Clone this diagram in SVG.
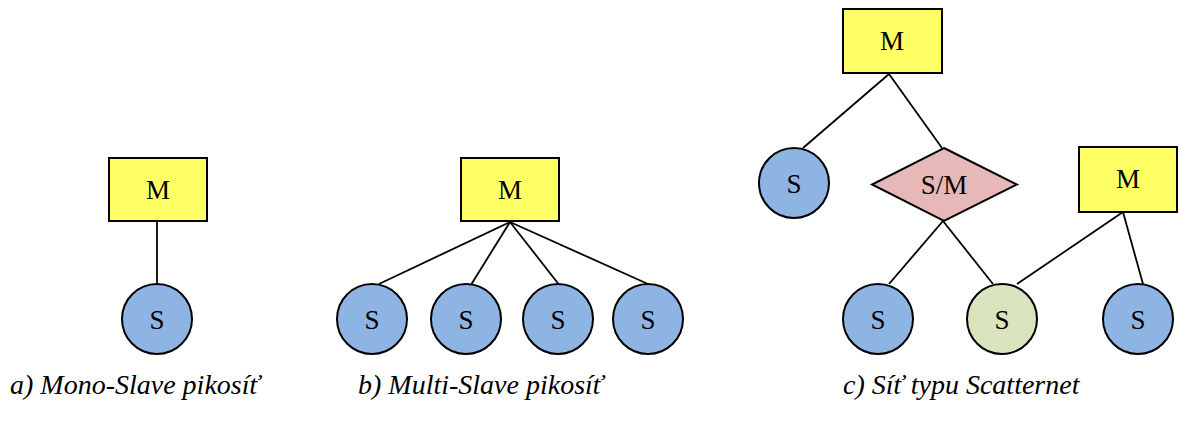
<svg xmlns="http://www.w3.org/2000/svg" width="1178" height="427" viewBox="0 0 1178 427">
<style>
.m{fill:#FFFF66;stroke:#000;stroke-width:2}
.s{fill:#8EB4E3;stroke:#000;stroke-width:2}
.g{fill:#D7E4BD;stroke:#000;stroke-width:2}
.d{fill:#E6B9B8;stroke:#000;stroke-width:2}
.c line{stroke:#000;stroke-width:1.8}
.t{font-size:27px;text-anchor:middle;fill:#000}
.cap{font-size:28px;font-style:italic;fill:#000}
</style>
<rect width="1178" height="427" fill="#fff"/>
<g class="c" id="connectors">
<line x1="157" y1="222" x2="157" y2="284"/>
<line x1="510" y1="222" x2="379" y2="284"/>
<line x1="510" y1="222" x2="471.5" y2="284"/>
<line x1="510" y1="222" x2="558.5" y2="284"/>
<line x1="510" y1="222" x2="648" y2="284"/>
<line x1="889" y1="74" x2="803" y2="148"/>
<line x1="889" y1="74" x2="942" y2="148"/>
<line x1="943" y1="221" x2="889" y2="284"/>
<line x1="943" y1="221" x2="993" y2="284"/>
<line x1="1123" y1="212" x2="1017" y2="284"/>
<line x1="1123" y1="212" x2="1143" y2="284"/>
</g>
<g font-family="Liberation Serif, DejaVu Serif, serif">
<g id="a_M"><rect class="m" x="109" y="158" width="98" height="63"/><text class="t" x="158" y="199">M</text></g>
<g id="a_S"><circle class="s" cx="157" cy="319" r="35"/><text class="t" x="157" y="329">S</text></g>
<g id="b_M"><rect class="m" x="461" y="158" width="98" height="63"/><text class="t" x="510" y="199">M</text></g>
<g id="b_S1"><circle class="s" cx="372" cy="319" r="35"/><text class="t" x="372" y="329">S</text></g>
<g id="b_S2"><circle class="s" cx="466" cy="319" r="35"/><text class="t" x="466" y="329">S</text></g>
<g id="b_S3"><circle class="s" cx="558" cy="319" r="35"/><text class="t" x="558" y="329">S</text></g>
<g id="b_S4"><circle class="s" cx="648" cy="319" r="35"/><text class="t" x="648" y="329">S</text></g>
<g id="c_M1"><rect class="m" x="843" y="9" width="99" height="64"/><text class="t" x="892" y="50">M</text></g>
<g id="c_S1"><circle class="s" cx="794" cy="183" r="35"/><text class="t" x="794" y="193">S</text></g>
<g id="c_SM"><polygon class="d" points="944,148 1017,184.5 944,221 872,184.5"/><text class="t" x="944" y="194">S/M</text></g>
<g id="c_M2"><rect class="m" x="1079" y="147" width="98" height="65"/><text class="t" x="1128" y="188">M</text></g>
<g id="c_S2"><circle class="s" cx="878" cy="319" r="35"/><text class="t" x="878" y="329">S</text></g>
<g id="c_S3"><circle class="g" cx="1002" cy="319" r="35"/><text class="t" x="1002" y="329">S</text></g>
<g id="c_S4"><circle class="s" cx="1138" cy="319" r="35"/><text class="t" x="1138" y="329">S</text></g>
<text class="cap" x="10" y="394">a) Mono-Slave pikosíť</text>
<text class="cap" x="358" y="394">b) Multi-Slave pikosíť</text>
<text class="cap" x="843" y="394">c) Síť typu Scatternet</text>
</g>
</svg>
